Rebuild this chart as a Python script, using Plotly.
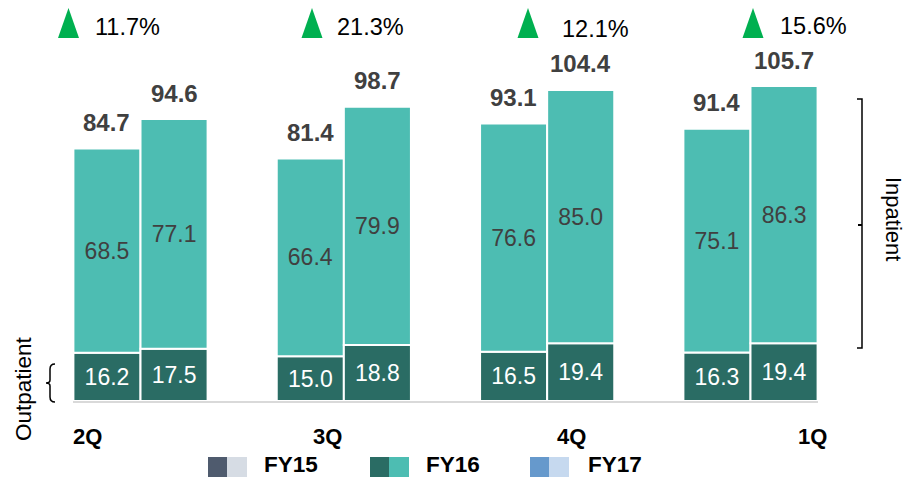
import plotly.graph_objects as go

# ---- data ----
quarters = ["2Q", "3Q", "4Q", "1Q"]
outpatient_prev = [16.2, 15.0, 16.5, 16.3]
inpatient_prev = [68.5, 66.4, 76.6, 75.1]
outpatient_curr = [17.5, 18.8, 19.4, 19.4]
inpatient_curr = [77.1, 79.9, 85.0, 86.3]
growth_labels = ["11.7%", "21.3%", "12.1%", "15.6%"]
legend_labels = ["FY15", "FY16", "FY17"]

# ---- style / layout ----
W, H = 905, 477
L, R, T, B = 73, 818, 10, 401
FONT = "Liberation Sans, Arial, sans-serif"
DARK_TEAL = "#2a6c64"
LIGHT_TEAL = "#4dbdb2"
legend_colors = [("#4f5b6e", "#d6dce4"), (DARK_TEAL, LIGHT_TEAL), ("#6699cc", "#c6d9ef")]
legend_sq_x = [208, 370, 530]
legend_txt_x = [291, 453, 615]
growth_txt_x = [127, 370, 595, 813]
growth_txt_y = [27, 27, 29, 26]
tri_x = [68.5, 312, 528, 753]
xlabel_shift = [-53, -16, 24, 62]
PREV_OFF, CURR_OFF, BW = -0.33, 0.0, 0.33


def px(x):
    return (x - L) / (R - L)


def py(y):
    return (B - y) / (B - T)


idx = list(range(len(quarters)))
fig = go.Figure()

def add_bar(vals, base, off, color, tcolor):
    fig.add_trace(go.Bar(
        x=idx, y=vals, base=base, offset=off, width=BW,
        marker=dict(color=color, line=dict(color="white", width=2)),
        text=[f"{v:.1f}" for v in vals], textposition="inside",
        insidetextanchor="middle", textangle=0,
        textfont=dict(family=FONT, size=23, color=tcolor),
        showlegend=False, hoverinfo="skip", cliponaxis=False,
    ))

add_bar(outpatient_prev, None, PREV_OFF, DARK_TEAL, "white")
add_bar(inpatient_prev, outpatient_prev, PREV_OFF, LIGHT_TEAL, "#404040")
add_bar(outpatient_curr, None, CURR_OFF, DARK_TEAL, "white")
add_bar(inpatient_curr, outpatient_curr, CURR_OFF, LIGHT_TEAL, "#404040")

annotations = []
shapes = []

# totals above bars
for i in idx:
    for off, o, ip in ((PREV_OFF, outpatient_prev, inpatient_prev), (CURR_OFF, outpatient_curr, inpatient_curr)):
        tot = o[i] + ip[i]
        annotations.append(dict(
            x=i + off + BW / 2, y=tot, xref="x", yref="y", text=f"<b>{tot:.1f}</b>",
            showarrow=False, yshift=26, yanchor="middle",
            font=dict(family=FONT, size=24, color="#404040")))

# category labels
for i, q in enumerate(quarters):
    annotations.append(dict(
        x=i, y=py(436), xref="x", yref="paper", text=f"<b>{q}</b>", showarrow=False,
        xshift=xlabel_shift[i], yanchor="middle",
        font=dict(family=FONT, size=22, color="#000000")))

# growth labels with triangles
for i, g in enumerate(growth_labels):
    annotations.append(dict(
        x=px(growth_txt_x[i]), y=py(growth_txt_y[i]), xref="paper", yref="paper", text=g,
        showarrow=False, xanchor="center", yanchor="middle",
        font=dict(family=FONT, size=23.5, color="#000000")))
    cx = tri_x[i]
    shapes.append(dict(
        type="path", xref="paper", yref="paper",
        path=f"M {px(cx-10.5)},{py(38)} L {px(cx+10.5)},{py(38)} L {px(cx)},{py(8)} Z",
        fillcolor="#00b050", line=dict(width=0)))

# legend
for k, lab in enumerate(legend_labels):
    x0 = legend_sq_x[k]
    dk, lt = legend_colors[k]
    shapes.append(dict(type="rect", xref="paper", yref="paper", x0=px(x0), x1=px(x0 + 19),
                       y0=py(480), y1=py(457), fillcolor=dk, line=dict(width=0)))
    shapes.append(dict(type="rect", xref="paper", yref="paper", x0=px(x0 + 19), x1=px(x0 + 39),
                       y0=py(480), y1=py(457), fillcolor=lt, line=dict(width=0)))
    annotations.append(dict(
        x=px(legend_txt_x[k]), y=py(464), xref="paper", yref="paper", text=f"<b>{lab}</b>",
        showarrow=False, xanchor="center", yanchor="middle", borderpad=0,
        font=dict(family=FONT, size=22.5, color="#000000")))

# Inpatient bracket
def P(x, y):
    return f"{px(x)},{py(y)}"

shapes.append(dict(type="path", xref="paper", yref="paper",
                   path=f"M {P(857,99)} L {P(862,99)} L {P(862,348)} L {P(857,348)}",
                   line=dict(color="#000000", width=1.5)))
shapes.append(dict(type="path", xref="paper", yref="paper",
                   path=f"M {P(862,225)} L {P(858,225)}",
                   line=dict(color="#000000", width=2)))
annotations.append(dict(x=px(894), y=py(219), xref="paper", yref="paper", text="Inpatient",
                        textangle=90, showarrow=False, xanchor="center", yanchor="middle",
                        font=dict(family=FONT, size=22, color="#000000")))

# Outpatient brace
shapes.append(dict(type="path", xref="paper", yref="paper",
                   path=(f"M {P(55,364)} Q {P(50,364)} {P(50,369)} L {P(50,380)} "
                         f"Q {P(50,383)} {P(46,383)} Q {P(50,383)} {P(50,386)} "
                         f"L {P(50,397)} Q {P(50,402)} {P(55,402)}"),
                   line=dict(color="#000000", width=1.5)))
annotations.append(dict(x=px(23), y=py(389), xref="paper", yref="paper", text="Outpatient",
                        textangle=-90, showarrow=False, xanchor="center", yanchor="middle",
                        font=dict(family=FONT, size=22.5, color="#000000")))

ymax = (B - T) / 2.98
fig.update_layout(
    width=W, height=H,
    margin=dict(l=L, r=W - R, t=T, b=H - B, pad=0),
    paper_bgcolor="white", plot_bgcolor="white",
    barmode="overlay",
    xaxis=dict(range=[-0.332, 3.332], showticklabels=False, showgrid=False, zeroline=False,
               showline=True, linecolor="#d9d9d9", linewidth=2, ticks=""),
    yaxis=dict(range=[0, ymax], visible=False),
    annotations=annotations, shapes=shapes,
    font=dict(family=FONT),
)

fig.write_html("out.html", config={"displayModeBar": False},
               post_script="document.body.style.margin='0px';document.body.style.overflow='hidden';")
